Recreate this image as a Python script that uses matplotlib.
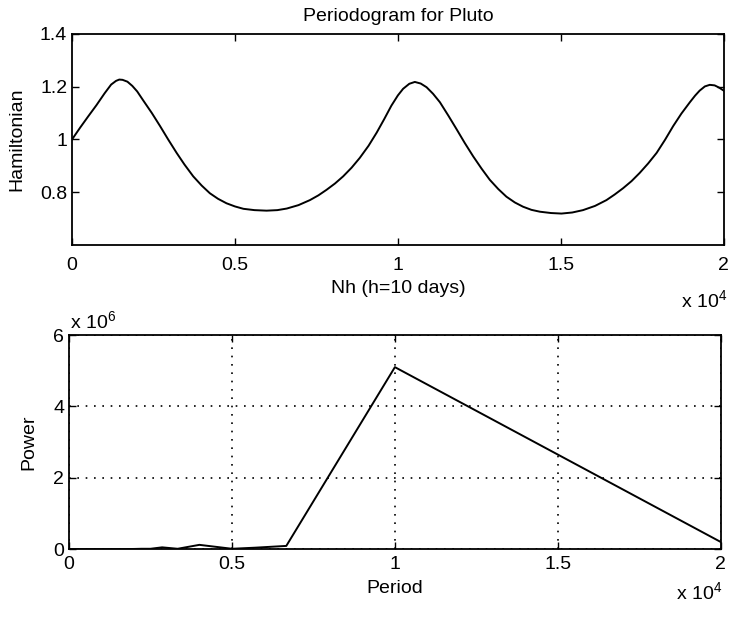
import matplotlib
matplotlib.use("Agg")
import matplotlib.pyplot as plt

plt.rcParams["font.family"] = ["Liberation Sans", "DejaVu Sans"]
plt.rcParams["mathtext.fontset"] = "custom"
plt.rcParams["mathtext.rm"] = "Liberation Sans"

# Hamiltonian along the orbit
nh = [0, 250, 500, 750, 1000, 1200, 1350, 1450, 1550, 1700, 1850, 2000,
      2190, 2450, 2700, 2950, 3210, 3450, 3720, 3980, 4230, 4480, 4740,
      5000, 5260, 5600, 5970, 6300, 6590, 6950, 7300, 7560, 7810, 8070,
      8320, 8580, 8830, 9100, 9350, 9580, 9800, 10000, 10160, 10350, 10520,
      10700, 10880, 11080, 11290, 11550, 11800, 12050, 12310, 12570, 12820,
      13080, 13330, 13590, 13840, 14100, 14360, 14700, 15020, 15350, 15680,
      16050, 16400, 16650, 16910, 17170, 17420, 17680, 17940, 18200, 18450,
      18700, 18960, 19120, 19260, 19420, 19570, 19720, 19850, 20000]
ham = [1.000, 1.045, 1.088, 1.130, 1.175, 1.208, 1.222, 1.227, 1.226, 1.219,
       1.203, 1.182, 1.147, 1.100, 1.051, 1.000, 0.949, 0.905, 0.860, 0.825,
       0.796, 0.775, 0.758, 0.746, 0.737, 0.732, 0.730, 0.732, 0.738, 0.751,
       0.770, 0.788, 0.809, 0.833, 0.860, 0.893, 0.930, 0.976, 1.026, 1.077,
       1.128, 1.167, 1.192, 1.211, 1.218, 1.212, 1.198, 1.173, 1.141, 1.090,
       1.039, 0.987, 0.936, 0.889, 0.847, 0.812, 0.783, 0.761, 0.745, 0.733,
       0.726, 0.721, 0.719, 0.723, 0.732, 0.748, 0.770, 0.791, 0.815, 0.842,
       0.873, 0.909, 0.949, 0.999, 1.051, 1.098, 1.141, 1.166, 1.185, 1.201,
       1.207, 1.205, 1.197, 1.185]

# periodogram
period = [20000, 10000, 6667, 5700, 5000, 4000, 3333, 2857, 2500, 2222,
          2000, 1818, 1667, 1429, 1250, 1000, 667, 400, 200, 20]
power = [2.0e5, 5.1e6, 9.0e4, 4.0e4, 1.0e4, 1.2e5, 1.0e4, 5.0e4, 1.0e4,
         1.0e4, 5.0e3, 3.0e3, 2.0e3, 1.0e3, 1.0e3, 0, 0, 0, 0, 0]

xticks = [0, 5000, 10000, 15000, 20000]
xticklabels = ["0", "0.5", "1", "1.5", "2"]
ham_ticks = [0.8, 1.0, 1.2, 1.4]
ham_ticklabels = ["0.8", "1", "1.2", "1.4"]
pow_ticks = [0, 2e6, 4e6, 6e6]
pow_ticklabels = ["0", "2", "4", "6"]

fs = 14

fig = plt.figure(figsize=(7.29, 6.17), dpi=100)
ax1 = fig.add_axes([0.0988, 0.603, 0.894, 0.342])
ax2 = fig.add_axes([0.0947, 0.110, 0.894, 0.347])

for ax in (ax1, ax2):
    ax.tick_params(direction="in", top=True, right=True, length=5,
                   width=1.0, labelsize=fs, colors="black")
    for s in ax.spines.values():
        s.set_linewidth(1.3)
        s.set_color("black")
    ax.set_xlim(0, 20000)
    ax.set_xticks(xticks, labels=xticklabels)

ax1.plot(nh, ham, color="black", lw=1.4)
ax1.set_ylim(0.6, 1.4)
ax1.set_yticks(ham_ticks, labels=ham_ticklabels)
ax1.tick_params(axis="x", pad=9)
ax1.set_title("Periodogram for Pluto", fontsize=fs, pad=9)
ax1.set_xlabel("Nh (h=10 days)", fontsize=fs)
ax1.xaxis.set_label_coords(0.5, -0.165)
ax1.set_ylabel("Hamiltonian", fontsize=fs)
ax1.yaxis.set_label_coords(-0.072, 0.5)

ax2.plot(period, power, color="black", lw=1.4)
ax2.set_ylim(0, 6e6)
ax2.set_yticks(pow_ticks, labels=pow_ticklabels)
ax2.tick_params(axis="x", pad=5)
ax2.grid(True, color="black", linestyle=(0, (1, 4)), linewidth=1.2)
ax2.set_xlabel("Period", fontsize=fs)
ax2.xaxis.set_label_coords(0.5, -0.145)
ax2.set_ylabel("Power", fontsize=fs)
ax2.yaxis.set_label_coords(-0.048, 0.5)

fig.text(0.997, 0.512, r"x 10$^{4}$", fontsize=fs, ha="right", va="center")
fig.text(0.990, 0.039, r"x 10$^{4}$", fontsize=fs, ha="right", va="center")
fig.text(0.096, 0.478, r"x 10$^{6}$", fontsize=fs, ha="left", va="center")

fig.savefig("out.png", dpi=100)
